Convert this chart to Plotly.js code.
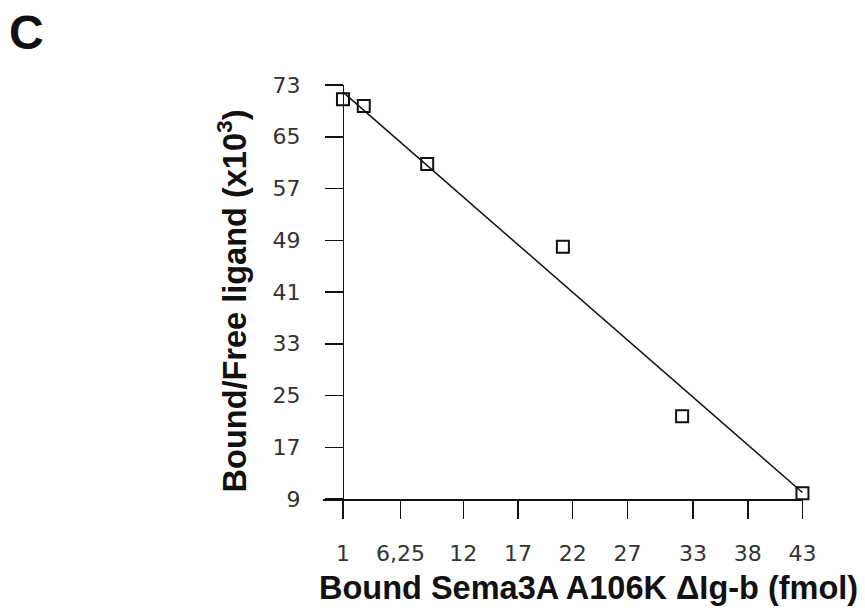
<!DOCTYPE html>
<html>
<head>
<meta charset="utf-8">
<script src="https://cdn.plot.ly/plotly-3.0.1.min.js"></script>
<style>html,body{margin:0;padding:0;background:#fff;}#chart{width:865px;height:611px;}</style>
</head>
<body>
<div id="chart"></div>
<script>
// Scatchard plot data
var boundX = [1, 2.9, 8.7, 21.1, 32.0, 43];
var ratioY = [70.8, 69.75, 60.8, 48.0, 21.8, 9.9];
// regression line end points
var fitX = [1, 43];
var fitY = [71.9, 10.0];
// tick labels
var xTickVals = [1, 6.25, 12, 17, 22, 27, 33, 38, 43];
var xTickText = ['1', '6,25', '12', '17', '22', '27', '33', '38', '43'];
var yTickVals = [9, 17, 25, 33, 41, 49, 57, 65, 73];

var traces = [
  {x: fitX, y: fitY, mode: 'lines', type: 'scatter', cliponaxis: false,
   line: {color: '#111', width: 1.5}, hoverinfo: 'skip', showlegend: false},
  {x: boundX, y: ratioY, mode: 'markers', type: 'scatter', cliponaxis: false,
   marker: {symbol: 'square-open', size: 12, color: '#111', line: {width: 2, color: '#111'}},
   showlegend: false}
];

var tickFont = {family: 'DejaVu Sans, sans-serif', size: 22, color: '#333'};
var layout = {
  width: 865, height: 611,
  margin: {l: 323, r: 61.5, t: 85, b: 112},
  paper_bgcolor: '#fff', plot_bgcolor: '#fff',
  showlegend: false,
  xaxis: {
    range: [-0.826, 43.05], showgrid: false, zeroline: false,
    showline: true, linecolor: '#111', linewidth: 1.5,
    ticks: 'outside', ticklen: 18, tickwidth: 1.5, tickcolor: '#111',
    tickmode: 'array', tickvals: xTickVals, ticktext: xTickText,
    tickfont: tickFont, ticklabelstandoff: 16
  },
  yaxis: {
    range: [9, 73], showgrid: false, zeroline: false,
    anchor: 'free', position: 0.0416,
    showline: true, linecolor: '#111', linewidth: 1.5,
    ticks: 'outside', ticklen: 18, tickwidth: 1.5, tickcolor: '#111',
    tickmode: 'array', tickvals: yTickVals,
    tickfont: tickFont, ticklabelstandoff: 20
  },
  annotations: [
    {text: 'Bound Sema3A A106K \u0394Ig-b (fmol)', xref: 'paper', yref: 'paper',
     x: 0.553, y: -0.215, xanchor: 'center', yanchor: 'middle', showarrow: false,
     font: {family: 'Liberation Sans, Arial, sans-serif', size: 32.5, color: '#111', weight: 'bold'}},
    {text: 'Bound/Free ligand (x10<sup>3</sup>)', xref: 'paper', yref: 'paper',
     x: -0.189, y: 0.478, xanchor: 'center', yanchor: 'middle', textangle: -90, showarrow: false,
     font: {family: 'Liberation Sans, Arial, sans-serif', size: 32.5, color: '#111', weight: 'bold'}},
    {text: 'C', xref: 'paper', yref: 'paper',
     x: -0.618, y: 1.128, xanchor: 'center', yanchor: 'middle', showarrow: false,
     font: {family: 'Liberation Sans, Arial, sans-serif', size: 48, color: '#111', weight: 'bold'}}
  ]
};

Plotly.newPlot('chart', traces, layout, {staticPlot: true, displayModeBar: false});
</script>
</body>
</html>
